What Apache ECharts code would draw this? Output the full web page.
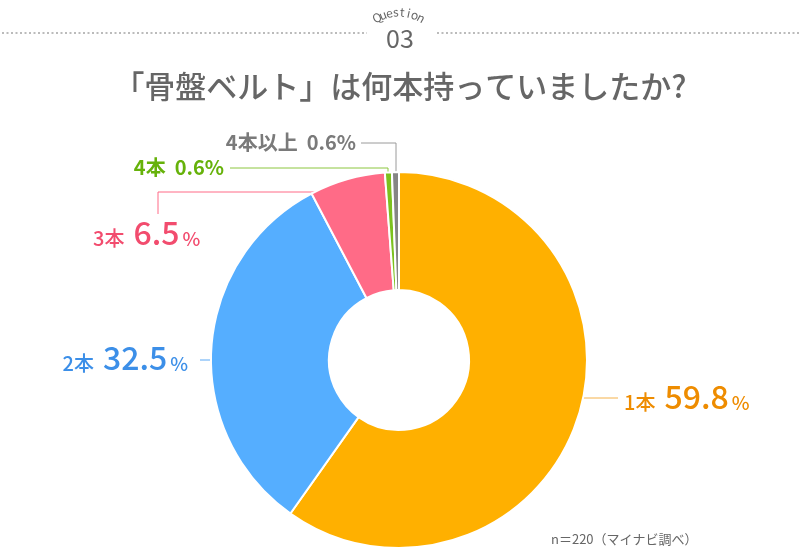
<!DOCTYPE html>
<html><head><meta charset="utf-8">
<script src="https://cdn.jsdelivr.net/npm/echarts@6/dist/echarts.min.js"></script>
<style>html,body{margin:0;padding:0;background:#fff}#c{width:800px;height:550px}</style>
</head><body><div id="c"></div>
<script>
const categories = ['1本', '2本', '3本', '4本', '4本以上'];
const values = [59.8, 32.5, 6.5, 0.6, 0.6];
const sliceColors = ['#FFB000', '#55AEFF', '#FF6B87', '#7CC11E', '#858585'];
const textColors = ['#EE8C00', '#3C8FE8', '#F24C6E', '#66B20A', '#7A7A7A'];
const lineColors = ['#F5B24A', '#5AA8F5', '#FF6B87', '#8CC63F', '#9A9A9A'];
const bigNum = [true, true, true, false, false];
const FONT = '"Noto Sans CJK JP", "Noto Sans", sans-serif';

// label layout (positions only)
const layouts = [
  {x: 624, y: 397, align: 'left', pts: [[568, 398], [618, 398], [618, 398]]},
  {x: 188, y: 358, align: 'right', pts: [[242, 360], [200, 360], [200, 360]]},
  {x: 93, y: 233, align: 'left', pts: [[334, 192], [158, 192], [158, 214]]},
  {x: 224, y: 167, align: 'right', pts: [[388, 174], [388, 168], [230, 168]]},
  {x: 356, y: 142, align: 'right', pts: [[396, 172], [396, 143], [361, 143]]}
];

const chart = echarts.init(document.getElementById('c'));

// arched "Question"
const word = 'Question';
const arcGraphics = [];
const cx = 399, cy = 58, R = 46, span = 0.5;
for (let i = 0; i < word.length; i++) {
  const t = -span + (2 * span) * (i / (word.length - 1));
  arcGraphics.push({
    type: 'text',
    x: cx + R * Math.sin(t),
    y: cy - R * Math.cos(t),
    rotation: -t,
    style: {text: word[i], fill: '#666', font: '12px ' + FONT, align: 'center', verticalAlign: 'middle'}
  });
}

chart.setOption({
  animation: false,
  title: [
    {text: '「骨盤ベルト」は何本持っていましたか?', left: 'center', top: 66,
     textStyle: {fontFamily: FONT, fontSize: 31, fontWeight: 500, color: '#666'}},
    {text: '03', left: 'center', top: 21,
     textStyle: {fontFamily: FONT, fontSize: 25, fontWeight: 400, color: '#666'}},
    {text: 'n＝220（マイナビ調べ）', left: 546, top: 528,
     textStyle: {fontFamily: FONT, fontSize: 13, fontWeight: 400, color: '#666'}}
  ],
  graphic: [
    {type: 'line', shape: {x1: 2, y1: 33, x2: 367, y2: 33}, style: {stroke: '#BBBBBB', lineWidth: 2, lineDash: [2, 2.5]}},
    {type: 'line', shape: {x1: 437, y1: 33, x2: 800, y2: 33}, style: {stroke: '#BBBBBB', lineWidth: 2, lineDash: [2, 2.5]}}
  ].concat(arcGraphics),
  series: [{
    type: 'pie',
    center: [399, 360],
    radius: [70, 188],
    startAngle: 90,
    clockwise: true,
    itemStyle: {borderColor: '#fff', borderWidth: 2},
    labelLine: {show: true, lineStyle: {width: 1}},
    data: categories.map((c, i) => ({
      name: c,
      value: values[i],
      itemStyle: {color: sliceColors[i]},
      labelLine: {lineStyle: {color: lineColors[i], width: 1}},
      label: {
        show: true,
        formatter: bigNum[i]
          ? '{a|' + c + '}{b|' + values[i].toFixed(1) + '}{c|%}'
          : '{d|' + c + '}{e|' + values[i].toFixed(1) + '%}',
        rich: {
          a: {fontFamily: FONT, fontSize: 20, fontWeight: 500, color: textColors[i], padding: [0, 9, 1, 0], verticalAlign: 'bottom'},
          b: {fontFamily: FONT, fontSize: 32, fontWeight: 500, color: textColors[i], verticalAlign: 'bottom'},
          c: {fontFamily: FONT, fontSize: 19, fontWeight: 500, color: textColors[i], padding: [0, 0, 1, 3], verticalAlign: 'bottom'},
          d: {fontFamily: FONT, fontSize: 20, fontWeight: 700, color: textColors[i], padding: [0, 9, 0, 0]},
          e: {fontFamily: FONT, fontSize: 20, fontWeight: 700, color: textColors[i]}
        }
      }
    })),
    labelLayout: function (p) {
      const L = layouts[p.dataIndex];
      return {x: L.x, y: L.y, align: L.align, verticalAlign: 'middle', labelLinePoints: L.pts};
    }
  }]
});
</script></body></html>
